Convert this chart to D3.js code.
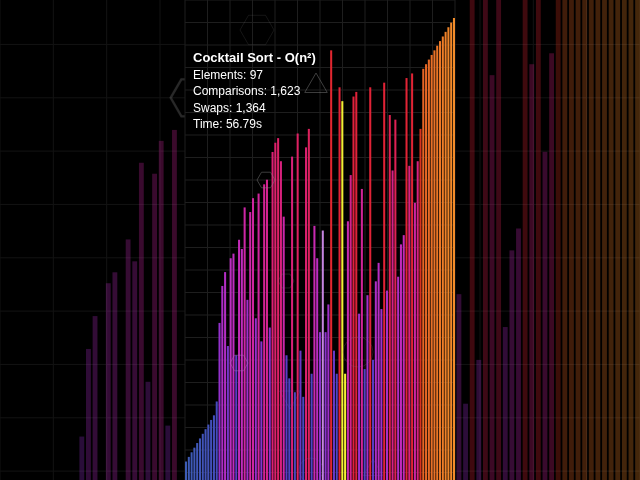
<!DOCTYPE html>
<html><head><meta charset="utf-8">
<script src="https://cdn.jsdelivr.net/npm/d3@7"></script>
<style>html,body{margin:0;padding:0;background:#000;overflow:hidden}svg{display:block}</style>
</head><body>
<svg id="chart" width="640" height="480"></svg>
<script>
// ---- data ----
const values = [4,5,6,7,8,9,10,11,12,13,14,17,34,42,45,29,48,49,27,52,50,59,39,58,61,35,62,30,64,65,33,71,73,74,69,57,27,22,70,19,75,28,18,72,76,23,55,48,32,54,32,38,93,28,23,85,82,23,56,66,83,84,36,63,24,40,85,26,43,47,37,86,41,79,67,78,44,51,53,87,68,88,60,69,76,89,90,91,92,93,94,95,96,97,98,99,100];
// u = unsorted, c = comparing, s = sorted, h = highlighted
const states = values.map((v,i)=> i>=84 ? "s" : (i===56||i===57) ? "c" : i===49 ? "h" : "u");
const titleText = "Cocktail Sort - O(n²)";
const statLabels = ["Elements", "Comparisons", "Swaps", "Time"];
const statValues = ["97", "1,623", "1,364", "56.79s"];

// ---- layout ----
const W = 640, H = 480;
const frameX0 = 185, frameW = 270;
const k = W / frameW;
const svg = d3.select("#chart");
svg.append("rect").attr("width", W).attr("height", H).attr("fill", "#000");

const x = d3.scaleBand().domain(d3.range(values.length)).range([frameX0, frameX0 + frameW]).paddingInner(0.27);
const y = d3.scaleLinear().domain([0, 100]).range([H, 18]);
const gx = d3.scaleLinear().domain([0, 12]).range([frameX0, frameX0 + frameW]);
const gy = d3.scaleLinear().domain([0, 12]).range([0, 270]);

const valueColor = d3.scaleLinear()
  .domain([0, 20, 27, 30, 36, 50, 62, 72, 84, 100])
  .range(["#3a62b2", "#4846c0", "#5a3cc6", "#8434cc", "#9a30cc", "#c02cbe", "#d0249c", "#dc2070", "#e02238", "#e42a2a"]);
const sortedColor = d3.scaleLinear().domain([76, 100]).range(["#d8341e", "#f28c2a"]);
function fillOf(v, i) {
  const s = states[i];
  if (s === "c") return "#f5ee35";
  if (s === "s") return sortedColor(v);
  if (s === "h") return "#c585e0";
  return valueColor(v);
}

function hexPath(cx, cy, r) {
  return d3.line()(d3.range(7).map(j => [cx + r * Math.cos(Math.PI / 3 * j), cy + r * Math.sin(Math.PI / 3 * j)]));
}
function triPath(cx, cy, r, down) {
  const s = down ? -1 : 1;
  return d3.line()(d3.range(4).map(j => [cx + r * Math.sin(2 * Math.PI / 3 * j), cy - s * r * Math.cos(2 * Math.PI / 3 * j)]));
}

function drawFrame(g, barOpacity, gridColor, bg) {
  const grid = g.append("g").attr("stroke", gridColor).attr("stroke-width", 1);
  grid.selectAll("line.v").data(d3.range(13)).join("line").attr("class", "v")
    .attr("x1", d => gx(d)).attr("x2", d => gx(d)).attr("y1", 0).attr("y2", H)
    .attr("vector-effect", bg ? "non-scaling-stroke" : null);
  grid.selectAll("line.h").data(d3.range(22)).join("line").attr("class", "h")
    .attr("x1", frameX0).attr("x2", frameX0 + frameW).attr("y1", d => gy(d)).attr("y2", d => gy(d))
    .attr("vector-effect", bg ? "non-scaling-stroke" : null);

  g.append("g").attr("opacity", barOpacity).selectAll("rect").data(values).join("rect")
    .attr("x", (d, i) => x(i)).attr("width", x.bandwidth())
    .attr("y", d => y(d)).attr("height", d => H - y(d))
    .attr("fill", (d, i) => fillOf(d, i));

  const deco = g.append("g").attr("fill", "none").attr("stroke", "#8a8a8a").attr("stroke-width", 1)
    .attr("opacity", bg ? 0.3 : 0.45);
  deco.append("path").attr("d", hexPath(266, 180, 9));
  deco.append("path").attr("d", hexPath(257, 30, 17)).attr("opacity", 0.35);
  deco.append("path").attr("d", triPath(316, 86, 13, false));
  deco.append("path").attr("d", hexPath(239, 363, 9)).attr("stroke", "#b070c0");
  deco.append("path").attr("d", hexPath(286, 281, 8)).attr("opacity", 0.5);
  deco.append("circle").attr("cx", 358).attr("cy", 352).attr("r", 15).attr("stroke", "#a0608a").attr("opacity", 0.5);
  deco.append("path").attr("d", triPath(290, 397, 12, true)).attr("stroke", "#8060c0").attr("opacity", 0.5);
  deco.append("circle").attr("cx", 311).attr("cy", 470).attr("r", 12).attr("stroke", "#8060c0").attr("opacity", 0.45);
  deco.append("path").attr("d", triPath(373, 470, 11, false)).attr("stroke", "#8060c0").attr("opacity", 0.45);
}

// background: zoomed, dimmed copy of the frame filling the width
const bgG = svg.append("g").attr("transform", `translate(${-frameX0 * k},${H / 2 - H / 2 * k}) scale(${k})`);
drawFrame(bgG, 0.28, "#131313", true);

// main frame
svg.append("rect").attr("x", frameX0).attr("y", 0).attr("width", frameW).attr("height", H).attr("fill", "#000");
const mainG = svg.append("g");
drawFrame(mainG, 1, "#1e1e1e", false);

// text
const txt = svg.append("g").attr("font-family", "'Liberation Sans', Arial, sans-serif").attr("fill", "#fff");
txt.append("text").attr("x", 193).attr("y", 62).attr("font-size", 13).attr("font-weight", "bold").text(titleText);
txt.selectAll("text.s").data(statLabels).join("text").attr("class", "s")
  .attr("x", 193).attr("y", (d, i) => 78.5 + i * 16.5).attr("font-size", 12)
  .text((d, i) => `${d}: ${statValues[i]}`);
</script>
</body></html>
